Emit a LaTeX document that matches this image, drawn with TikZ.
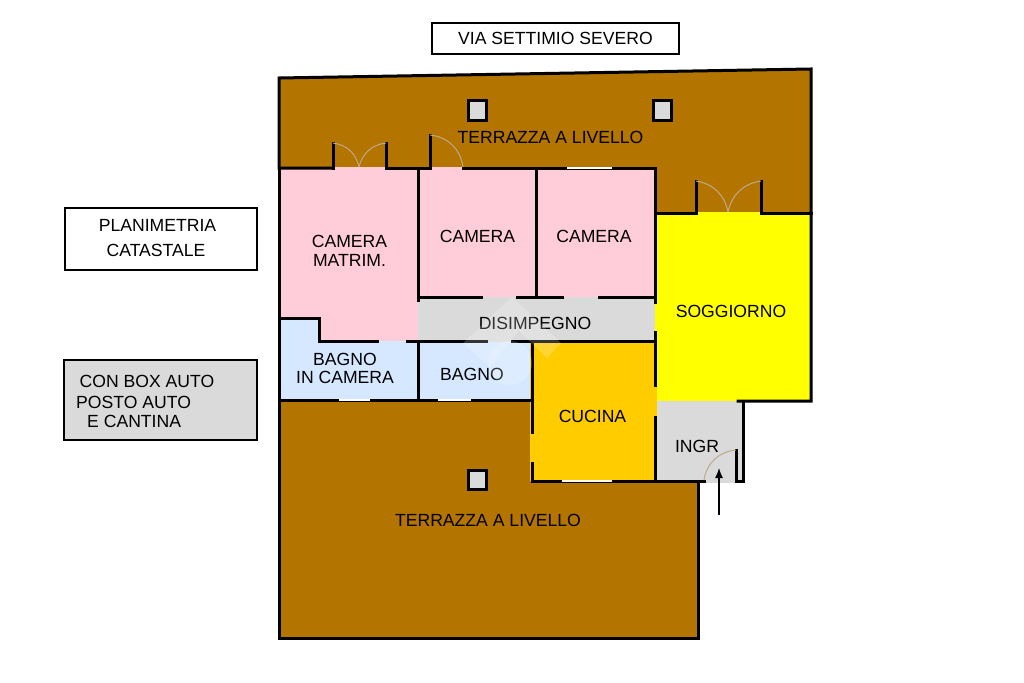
\documentclass[tikz,border=0pt]{standalone}
\usepackage{fontspec}
\usetikzlibrary{arrows.meta}
\setmainfont{Liberation Sans}
\definecolor{terrace}{HTML}{B37400}
\definecolor{bedroom}{HTML}{FFCCD9}
\definecolor{bath}{HTML}{D5E8FF}
\definecolor{hall}{HTML}{DADADA}
\definecolor{living}{HTML}{FFFF00}
\definecolor{kitchen}{HTML}{FFCC00}
\definecolor{swing}{HTML}{BFA98A}
\tikzset{
	wall/.style={draw=black,line width=3pt,line cap=rect},
	glass/.style={draw=white,line width=1.2pt},
	door/.style={draw=swing,line width=1pt},
	pillar/.style={draw=black,line width=3pt,fill=hall},
	plate/.style={draw=black,line width=2.4pt},
	room label/.style={font=\fontsize{17.6}{19}\selectfont,align=center,text=black,inner sep=0pt},
}
\begin{document}
\begin{tikzpicture}[x=1pt,y=-1pt]
	\useasboundingbox[fill=white] (0,0) rectangle (1024,682);
	
	% room fills
	\fill[terrace] (279,78) -- (811,69) -- (811,213) -- (655,213) -- (655,168) -- (279,168) -- cycle;
	\fill[terrace] (279,400) -- (532,400) -- (532,481) -- (698,481) -- (698,638) -- (279,638) -- cycle;
	\fill[bedroom] (279,167) -- (655,167) -- (655,297) -- (418,297) -- (418,341) -- (319,341) -- (319,318) -- (279,318) -- cycle;
	\fill[bath] (279,318) -- (319,318) -- (319,341) -- (532,341) -- (532,400) -- (279,400) -- cycle;
	\fill[hall] (418,297) -- (657,297) -- (657,342) -- (418,342) -- cycle;
	\fill[hall] (655,401) -- (743,401) -- (743,483) -- (655,483) -- cycle;
	\fill[living] (655,212) -- (811,212) -- (811,401) -- (655,401) -- cycle;
	\fill[kitchen] (530,342) -- (657,342) -- (657,481) -- (530,481) -- cycle;
	
	% walls
	\draw[wall] (333,168) -- (279,168) -- (279,78) -- (811,69) -- (811,401) -- (738,401);
	\draw[wall] (386,168) -- (430,168);
	\draw[wall] (463,168) -- (655,168);
	\draw[wall] (333,143) -- (333,168);
	\draw[wall] (386,143) -- (386,168);
	\draw[wall] (430,135) -- (430,168);
	\draw[wall] (655,168) -- (655,302);
	\draw[wall] (655,213) -- (696,213) -- (696,181);
	\draw[wall] (811,213) -- (761,213) -- (761,181);
	\draw[wall] (418,168) -- (418,300);
	\draw[wall] (536,168) -- (536,297);
	\draw[wall] (418,297) -- (481,297);
	\draw[wall] (517,297) -- (562,297);
	\draw[wall] (599,297) -- (655,297);
	\draw[wall] (279,168) -- (279,638) -- (698,638) -- (698,481);
	\draw[wall] (279,318) -- (319,318) -- (319,341) -- (377,341);
	\draw[wall] (407,341) -- (486,341);
	\draw[wall] (512,341) -- (655,341);
	\draw[wall] (418,341) -- (418,400);
	\draw[wall] (279,400) -- (532,400);
	\draw[wall] (532,342) -- (532,432);
	\draw[wall] (532,463) -- (532,481) -- (704,481);
	\draw[wall] (655,332) -- (655,385);
	\draw[wall] (655,417) -- (655,481);
	\draw[wall] (743,401) -- (743,481) -- (736,481) -- (736,450);
	
	% windows
	\draw[glass] (567,168) -- (612,168);
	\draw[glass] (339,400) -- (370,400);
	\draw[glass] (438,400) -- (471,400);
	\draw[glass] (562,481) -- (612,481);
	
	% door swings
	\draw[door] (333,143) to[bend left=35] (359,167);
	\draw[door] (386,143) to[bend right=35] (359,167);
	\draw[door] (430,135) to[bend left=38] (463,167);
	\draw[door] (696,181) to[bend left=35] (728,212);
	\draw[door] (761,181) to[bend right=35] (728,212);
	\draw[door] (736,450) to[bend right=38] (704,480);
	
	% pillars
	\draw[pillar] (468,101) rectangle (486,120);
	\draw[pillar] (653,101) rectangle (671,120);
	\draw[pillar] (468,470) rectangle (486,489);
	
	% entrance arrow
	\coordinate (entryA) at (719,515);
	\coordinate (entryB) at (719,468);
	\draw[-{Latex[length=10pt,width=8pt]},line width=1.3pt] (entryA) -- (entryB);
	
	% rooms
	\node[room label] (terraceN) at (550.5,137.5) {TERRAZZA A LIVELLO};
	\node[room label] (terraceS) at (488,520.5) {TERRAZZA A LIVELLO};
	\node[room label] (matrim) at (349.5,250.5) {CAMERA\\MATRIM.};
	\node[room label] (cameraA) at (477.5,236.5) {CAMERA};
	\node[room label] (cameraB) at (594,236.5) {CAMERA};
	\node[room label] (disimp) at (535,323.5) {DISIMPEGNO};
	\node[room label] (soggiorno) at (731,311.5) {SOGGIORNO};
	\node[room label] (bagnoCam) at (345,368) {BAGNO\\[-1pt]IN CAMERA};
	\node[room label] (bagno) at (472,374.5) {BAGNO};
	\node[room label] (cucina) at (592.5,416.5) {CUCINA};
	\node[room label] (ingr) at (697,446.5) {INGR};
	
	% watermark
	\fill[white,opacity=.2] (512,297) -- (561,343) -- (547,358) -- (519,331) -- (490,367) -- (463,343) -- cycle;
	\fill[white,opacity=.2] (510,363) circle (22);
	
	% side plates
	\node[plate,fill=white,minimum width=247pt,minimum height=31pt] (street) at (555.5,38.5) {};
	\node[room label] (streetT) at (555.5,38.5) {VIA SETTIMIO SEVERO};
	\node[plate,fill=white,minimum width=192pt,minimum height=62pt] (plan) at (161,239) {};
	\node[room label] (planT) at (157.5,238.5) {PLANIMETRIA\\[6pt]\hspace*{-3pt}CATASTALE};
	\node[plate,fill=hall,minimum width=193pt,minimum height=80pt] (extras) at (160.5,400) {};
	\node[room label,anchor=west] (extraA) at (79.5,381.5) {CON BOX AUTO};
	\node[room label,anchor=west] (extraB) at (76,402.5) {POSTO AUTO};
	\node[room label,anchor=west] (extraC) at (87,421.5) {E CANTINA};
\end{tikzpicture}
\end{document}
